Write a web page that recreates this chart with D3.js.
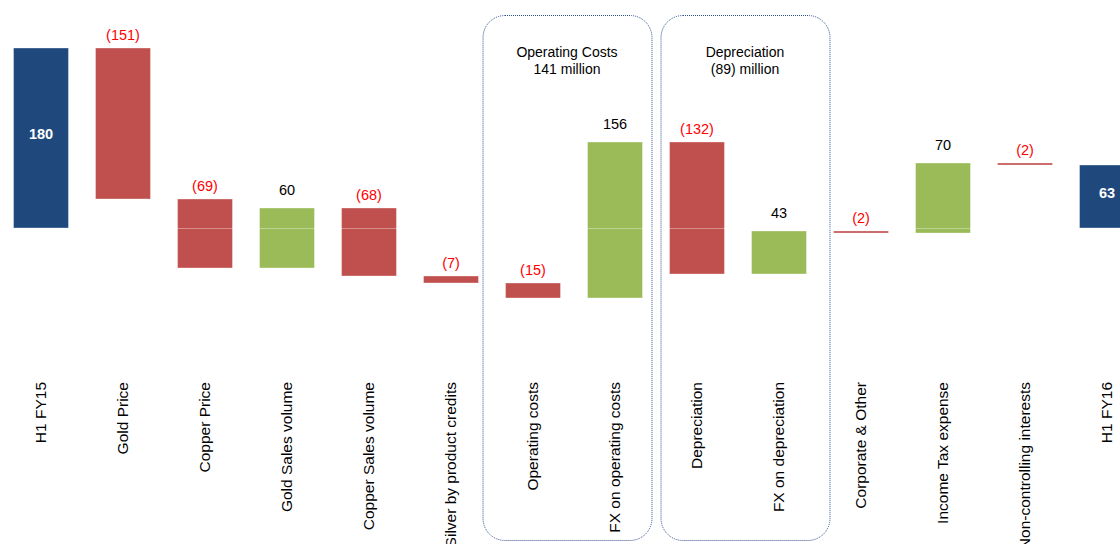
<!DOCTYPE html>
<html>
<head>
<meta charset="utf-8">
<script src="https://cdn.jsdelivr.net/npm/d3@7.9.0/dist/d3.min.js"></script>
<style>
  body { margin: 0; background: #fff; }
  svg { display: block; font-family: "Liberation Sans", Arial, sans-serif; }
</style>
</head>
<body>
<svg id="chart" width="1120" height="544"></svg>
<script>
// categories and values (US$ million)
const categories = [
  'H1 FY15', 'Gold Price', 'Copper Price', 'Gold Sales volume', 'Copper Sales volume',
  'Silver by product credits', 'Operating costs', 'FX on operating costs', 'Depreciation',
  'FX on depreciation', 'Corporate & Other', 'Income Tax expense', 'Non-controlling interests', 'H1 FY16'
];
const values = [180, -151, -69, 60, -68, -7, -15, 156, -132, 43, -2, 70, -2, 63];
const isTotal = [true, false, false, false, false, false, false, false, false, false, false, false, false, true];

// grouping boxes
const groups = [
  { first: 'Operating costs', last: 'FX on operating costs', title: ['Operating Costs', '141 million'], padL: 23, padR: 9 },
  { first: 'Depreciation', last: 'FX on depreciation', title: ['Depreciation', '(89) million'], padL: 9, padR: 23 }
];

const colors = { total: '#1f497d', neg: '#c0504d', pos: '#9bbb59' };

// build waterfall steps
let running = 0;
const steps = categories.map((c, i) => {
  let start, end;
  if (isTotal[i]) {
    start = 0; end = values[i]; running = values[i];
  } else {
    start = running; end = running + values[i]; running = end;
  }
  return { cat: c, value: values[i], start, end, total: isTotal[i] };
});

const svg = d3.select('#chart');

const x = d3.scaleBand()
  .domain(categories)
  .range([0, 1148])
  .paddingInner(0.33)
  .paddingOuter(0.165);

const y = d3.scaleLinear()
  .domain([0, 180])
  .range([228, 48]);

// dotted rounded group boxes
groups.forEach(g => {
  const x0 = x(g.first) - g.padL;
  const x1 = x(g.last) + x.bandwidth() + g.padR;
  svg.append('rect')
    .attr('x', x0 + 0.5).attr('y', 15.5)
    .attr('width', x1 - x0).attr('height', 525)
    .attr('rx', 22).attr('ry', 22)
    .attr('fill', 'none')
    .attr('stroke', '#2f4f8f')
    .attr('stroke-width', 1)
    .attr('stroke-dasharray', '1,1');
  const t = svg.append('text')
    .attr('x', (x0 + x1) / 2)
    .attr('y', 57)
    .attr('text-anchor', 'middle')
    .attr('font-size', 14)
    .attr('fill', '#000');
  g.title.forEach((line, k) => {
    t.append('tspan')
      .attr('x', (x0 + x1) / 2)
      .attr('dy', k === 0 ? 0 : 17)
      .text(line);
  });
});

// bars
svg.selectAll('rect.bar')
  .data(steps)
  .join('rect')
  .attr('class', 'bar')
  .attr('x', d => x(d.cat))
  .attr('width', x.bandwidth())
  .attr('y', d => y(Math.max(d.start, d.end)))
  .attr('height', d => Math.max(1.5, Math.abs(y(d.start) - y(d.end))))
  .attr('fill', d => d.total ? colors.total : (d.value < 0 ? colors.neg : colors.pos))
  .attr('stroke', 'rgba(255,255,255,0.35)')
  .attr('stroke-width', 1);

// faint zero line over bars
svg.append('line')
  .attr('x1', 0).attr('x2', 1120)
  .attr('y1', y(0) + 0.5).attr('y2', y(0) + 0.5)
  .attr('stroke', 'rgba(255,255,255,0.35)')
  .attr('stroke-width', 1);

const fmt = v => v < 0 ? `(${-v})` : `${v}`;

// value labels
svg.selectAll('text.val')
  .data(steps)
  .join('text')
  .attr('class', 'val')
  .attr('x', d => x(d.cat) + x.bandwidth() / 2)
  .attr('y', d => {
    if (d.total) return (y(d.start) + y(d.end)) / 2 + 1;
    const top = y(Math.max(d.start, d.end));
    return d.value < 0 ? top - 8 : top - 13;
  })
  .attr('text-anchor', 'middle')
  .attr('font-size', 14.5)
  .attr('font-weight', d => d.total ? 'bold' : 'normal')
  .attr('fill', d => d.total ? '#fff' : (d.value < 0 ? '#ff0000' : '#000'))
  .text(d => fmt(d.value));

// category labels (rotated)
svg.selectAll('text.cat')
  .data(categories)
  .join('text')
  .attr('class', 'cat')
  .attr('transform', d => `translate(${x(d) + x.bandwidth() / 2 + 5},382) rotate(-90)`)
  .attr('text-anchor', 'end')
  .attr('font-size', 15.5)
  .attr('fill', '#000')
  .text(d => d);
</script>
</body>
</html>
